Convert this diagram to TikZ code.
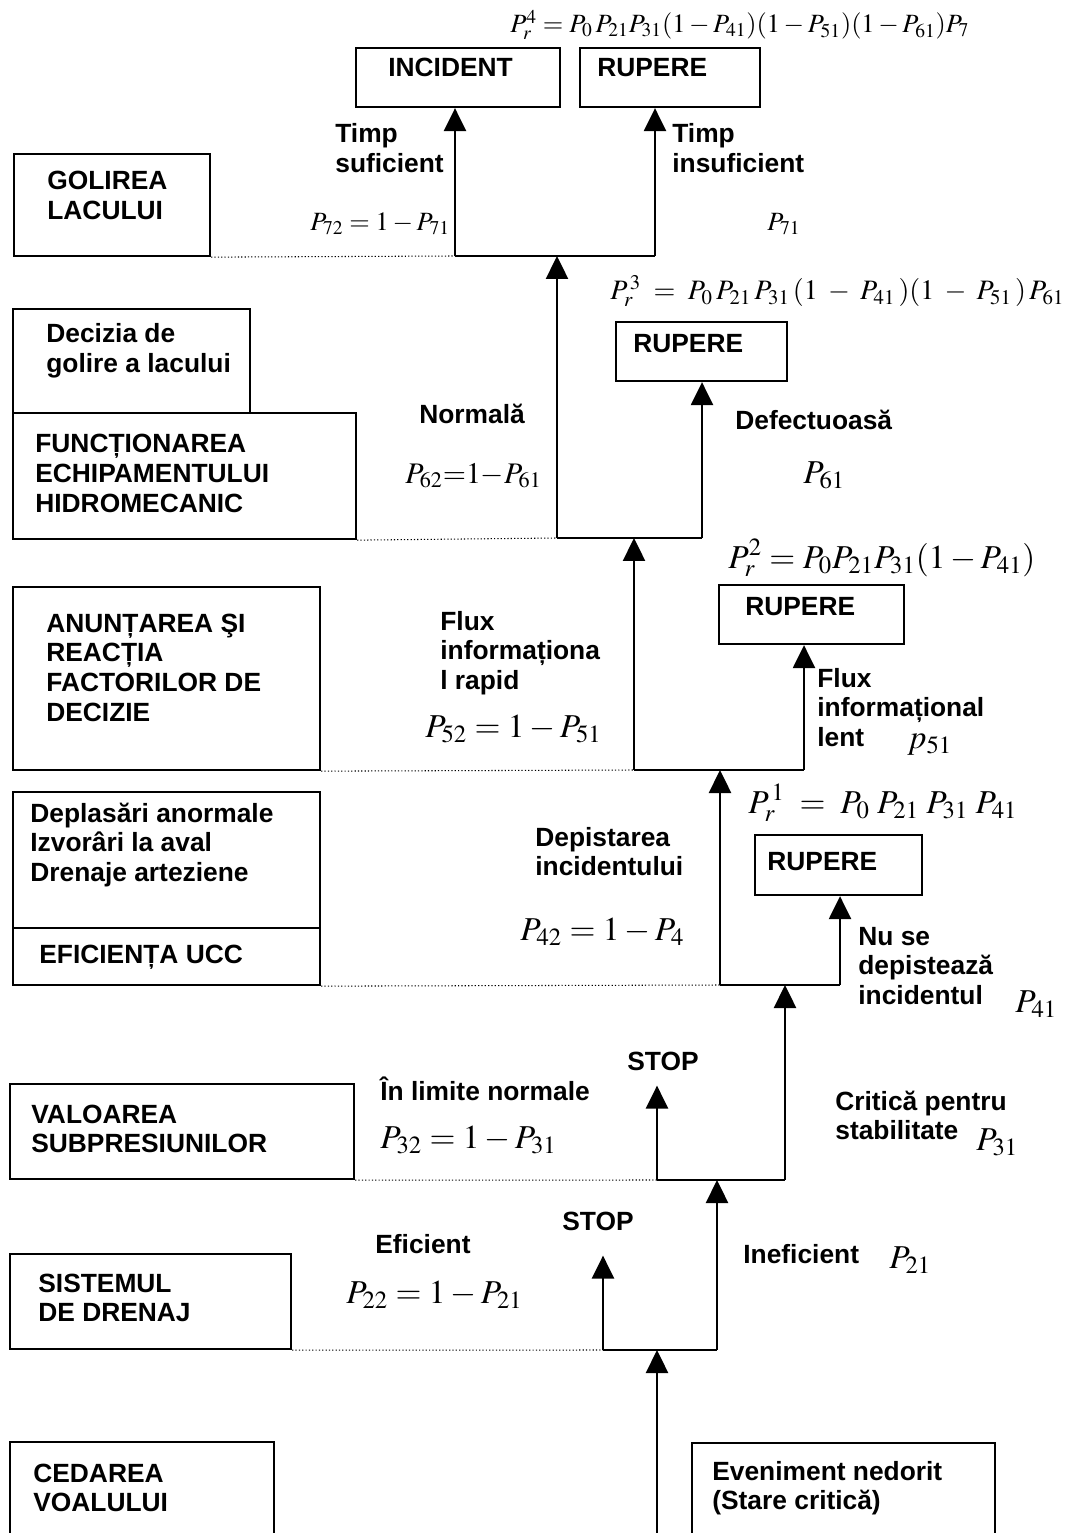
\documentclass[tikz,border=0pt]{standalone}
\usepackage{mathptmx}
\usepackage[no-math]{fontspec}
\setmainfont{Liberation Sans}
\usetikzlibrary{arrows.meta,fit}

\newcommand{\lines}[1]{\begin{tabular}[t]{@{}l@{}}#1\end{tabular}}
\newcommand{\msize}[1]{\fontsize{#1}{#1}\selectfont}

\begin{document}
\begin{tikzpicture}[x=0.02cm,y=-0.02cm]

      \tikzstyle{every node}=[inner sep=0pt,
                              font=\bfseries\fontsize{15}{17}\selectfont]
      \tikzstyle{txt}=[anchor=base west]
      \tikzstyle{box}=[draw,line width=1.3pt,anchor=center]
      \tikzstyle{bar}=[line width=1.4pt]
      \tikzstyle{arr}=[line width=1.4pt,-{Triangle[length=0.46cm,width=0.44cm]}]
      \tikzstyle{dots}=[line width=0.6pt,dash pattern=on 0.7pt off 1.2pt]

      \useasboundingbox (0,0) rectangle (1068,1533);

      % golirea lacului
      \node[txt] (f4) at (510,33) {\msize{15}$P_r^4 = P_0\,P_{21}P_{31}(1-P_{41})(1-P_{51})(1-P_{61})P_7$};
      \node[box,fit={(356,48) (560,107)}] (incident) {};
      \node[txt] (tincident) at (388,77) {INCIDENT};
      \node[box,fit={(580,48) (760,107)}] (rupere4) {};
      \node[txt] (trupere4) at (597,77) {RUPERE};
      \node[txt] (suficient) at (335,143) {\lines{Timp\\suficient}};
      \node[txt] (insuficient) at (672,143) {\lines{Timp\\insuficient}};
      \node[txt] (p72) at (310,231) {\msize{15}$P_{72} = 1 - P_{71}$};
      \node[txt] (p71) at (767,231) {\msize{15}$P_{71}$};
      \node[box,fit={(14,154) (210,256)}] (golirea) {};
      \node[txt] (tgolirea) at (47,190) {\lines{GOLIREA\\LACULUI}};

      % echipamentul hidromecanic
      \node[txt] (f3) at (610,300) {\msize{16}$P_r^{\,3} \;=\; P_0\,P_{21}\,P_{31}\,(1 \;-\; P_{41}\,)(1 \;-\; P_{51}\,)\,P_{61}$};
      \node[box,fit={(616,322) (787,381)}] (rupere3) {};
      \node[txt] (trupere3) at (633,353) {RUPERE};
      \node[txt] (normala) at (419,424) {Normală};
      \node[txt] (p62) at (405,483) {\msize{17}$P_{62}{=}1{-}P_{61}$};
      \node[txt] (defectuoasa) at (735,430) {Defectuoasă};
      \node[txt] (p61) at (803,483) {\msize{19}$P_{61}$};
      \node[box,fit={(13,309) (250,413)}] (decizia) {};
      \node[txt] (tdecizia) at (46,343) {\lines{Decizia de\\golire a lacului}};
      \node[box,fit={(13,413) (356,539)}] (functionare) {};
      \node[txt] (tfunctionare) at (35,453) {\lines{FUNCȚIONAREA\\ECHIPAMENTULUI\\HIDROMECANIC}};

      % anuntarea
      \node[txt] (f2) at (728,568) {\msize{19}$P_r^2 = P_0P_{21}P_{31}(1-P_{41})$};
      \node[box,fit={(719,585) (904,644)}] (rupere2) {};
      \node[txt] (trupere2) at (745,615) {RUPERE};
      \node[txt] (rapid) at (440,630) {\lines{Flux\\informaționa\\l rapid}};
      \node[txt] (p52) at (425,737) {\msize{19}$P_{52} = 1 - P_{51}$};
      \node[txt] (lent) at (817,687) {\lines{Flux\\informațional\\lent}};
      \node[txt] (p51) at (907,748) {\msize{19}$p_{51}$};
      \node[box,fit={(13,587) (320,770)}] (anuntare) {};
      \node[txt] (tanuntare) at (46,632) {\lines{ANUNȚAREA ŞI\\REACȚIA\\FACTORILOR DE\\DECIZIE}};

      % eficienta UCC
      \node[txt] (f1) at (748,813) {\msize{19}$P_r^{\,1} \;=\; P_0\;P_{21}\;P_{31}\;P_{41}$};
      \node[box,fit={(755,835) (922,895)}] (rupere1) {};
      \node[txt] (trupere1) at (767,870) {RUPERE};
      \node[txt] (depistare) at (535,846) {\lines{Depistarea\\incidentului}};
      \node[txt] (p42) at (520,940) {\msize{19}$P_{42} = 1 - P_4$};
      \node[txt] (nudepistare) at (858,945) {\lines{Nu se\\depistează\\incidentul}};
      \node[txt] (p41) at (1015,1012) {\msize{19}$P_{41}$};
      \node[box,fit={(13,792) (320,985)}] (ucc) {};
      \draw[bar] (13,928) -- (320,928);
      \node[txt] (tucc) at (30,822) {\lines{Deplasări anormale\\Izvorâri la aval\\Drenaje arteziene}};
      \node[txt] (teficienta) at (39,963) {EFICIENȚA UCC};

      % subpresiuni
      \node[txt] (stop2) at (627,1070) {STOP};
      \node[txt] (limite) at (380,1100) {În limite normale};
      \node[txt] (p32) at (380,1148) {\msize{19}$P_{32} = 1 - P_{31}$};
      \node[txt] (critica) at (835,1110) {\lines{Critică pentru\\stabilitate}};
      \node[txt] (p31) at (976,1150) {\msize{19}$P_{31}$};
      \node[box,fit={(10,1084) (354,1179)}] (valoarea) {};
      \node[txt] (tvaloarea) at (31,1123) {\lines{VALOAREA\\SUBPRESIUNILOR}};

      % drenaj
      \node[txt] (stop1) at (562,1230) {STOP};
      \node[txt] (eficient) at (375,1253) {Eficient};
      \node[txt] (p22) at (346,1303) {\msize{19}$P_{22} = 1 - P_{21}$};
      \node[txt] (ineficient) at (743,1263) {Ineficient};
      \node[txt] (p21) at (889,1268) {\msize{19}$P_{21}$};
      \node[box,fit={(10,1254) (291,1349)}] (sistemul) {};
      \node[txt] (tsistemul) at (38,1292) {\lines{SISTEMUL\\DE DRENAJ}};

      % voalul
      \node[box,fit={(10,1442) (274,1545)}] (cedarea) {};
      \node[txt] (tcedarea) at (33,1482) {\lines{CEDAREA\\VOALULUI}};
      \node[box,fit={(692,1443) (995,1545)}] (eveniment) {};
      \node[txt] (teveniment) at (712,1480) {\lines{Eveniment nedorit\\(Stare critică)}};

      \coordinate (s0) at (657,1533);
      \coordinate (d1) at (603,1350); \coordinate (d2) at (717,1350);
      \coordinate (v1) at (657,1180); \coordinate (v2) at (785,1180);
      \coordinate (u1) at (720,985);  \coordinate (u2) at (840,985);
      \coordinate (a1) at (634,770);  \coordinate (a2) at (804,770);
      \coordinate (h1) at (557,538);  \coordinate (h2) at (702,538);
      \coordinate (g1) at (455,256);  \coordinate (g2) at (655,256);

      \draw[arr] (s0) -- (s0 |- d1);
      \draw[bar] (d1) -- (d2);
      \draw[arr,shorten >=0.5cm] (d1) -- (d1 |- stop1.south);
      \draw[arr] (d2) -- (d2 |- v1);
      \draw[bar] (v1) -- (v2);
      \draw[arr,shorten >=0.3cm] (v1) -- (v1 |- stop2.south);
      \draw[arr] (v2) -- (v2 |- u1);
      \draw[bar] (u1) -- (u2);
      \draw[arr] (u1) -- (u1 |- a1);
      \draw[arr] (u2) -- (u2 |- rupere1.south);
      \draw[bar] (a1) -- (a2);
      \draw[arr] (a1) -- (a1 |- h1);
      \draw[arr] (a2) -- (a2 |- rupere2.south);
      \draw[bar] (h1) -- (h2);
      \draw[arr] (h1) -- (h1 |- g1);
      \draw[arr] (h2) -- (h2 |- rupere3.south);
      \draw[bar] (g1) -- (g2);
      \draw[arr] (g1) -- (g1 |- incident.south);
      \draw[arr] (g2) -- (g2 |- rupere4.south);

      \draw[dots] (golirea.south east) -- (g1);
      \draw[dots] (functionare.south east) -- (h1);
      \draw[dots] (anuntare.south east) -- (a1);
      \draw[dots] (ucc.south east) -- (u1);
      \draw[dots] (valoarea.south east) -- (v1);
      \draw[dots] (sistemul.south east) -- (d1);

\end{tikzpicture}
\end{document}
